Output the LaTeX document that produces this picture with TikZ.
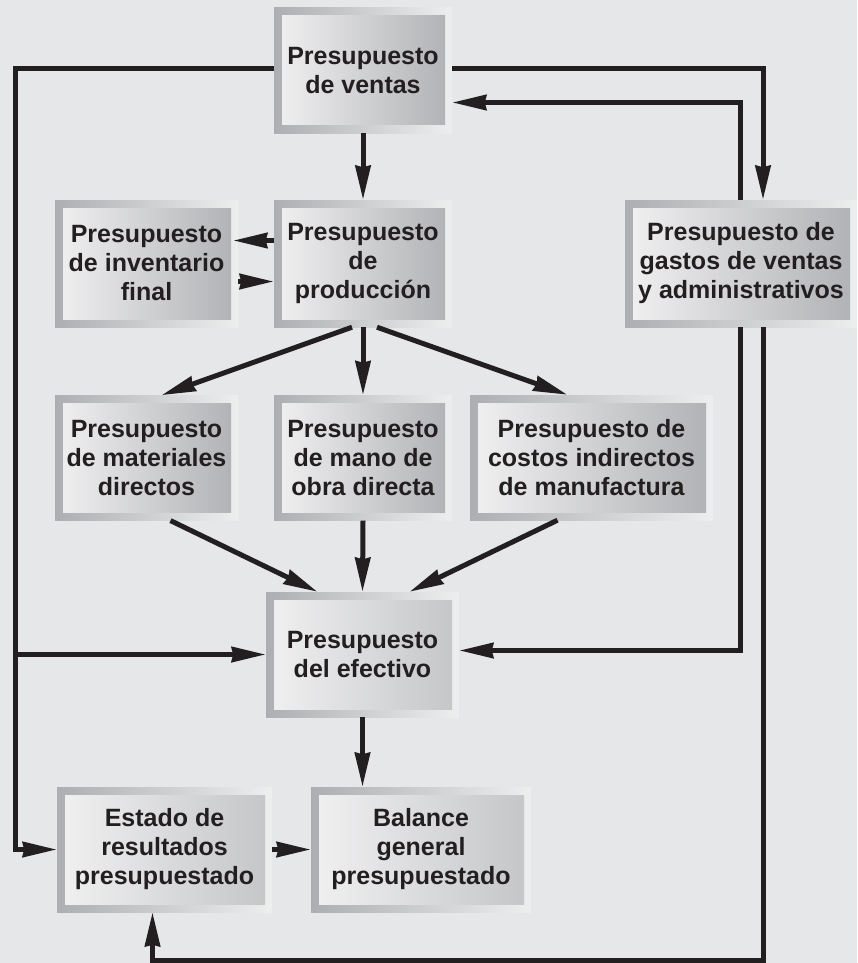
\documentclass[tikz,border=0pt]{standalone}
\usepackage{fontspec}
\setmainfont{Liberation Sans}
\usepackage{tikz}
\usetikzlibrary{positioning,arrows.meta,calc}
\usepackage{xcolor}
\definecolor{bgcol}{HTML}{E6E7E8}
\definecolor{inkcol}{HTML}{231F20}
\definecolor{outL}{HTML}{ADAEB1}
\definecolor{outR}{HTML}{EDEEEE}
\definecolor{inL}{HTML}{F1F1F2}
\definecolor{inR}{HTML}{B0B1B4}
\definecolor{inRlight}{HTML}{C4C5C7}

\begin{document}
\begin{tikzpicture}[
  x=1pt, y=-1pt,
  font=\fontsize{25}{29}\selectfont\bfseries,
  >={Stealth[length=34pt,width=15pt,inset=1.5pt]},
  budget/.style={left color=outL, right color=outR, minimum height=125pt,
    inner sep=0pt, align=center, text=inkcol,
    path picture={\shade[left color=inL, right color=#1]
      ([shift={(8pt,-8pt)}]path picture bounding box.north west) rectangle
      ([shift={(-7pt,8pt)}]path picture bounding box.south east);}},
  budget/.default=inR,
  arr/.style={->, line width=5pt, draw=inkcol},
]

% background and page size
\fill[bgcol] (0,0) rectangle (857,963);
\useasboundingbox (0,0) rectangle (857,963);

% Sales budget on top
\node[budget, minimum width=178pt] (ventas) at (363,70.5) {Presupuesto\\de ventas};

% Second row
\node[budget, minimum width=178pt, minimum height=127pt] (produccion) at (363,263.5) {Presupuesto\\de\\producción};
\node[budget, minimum width=183pt, minimum height=127pt] (inventario) at (146.5,263.5) {Presupuesto\\de inventario\\final};
\node[budget, minimum width=232pt, minimum height=127pt] (gastos) at (741,263.5) {Presupuesto de\\gastos de ventas\\y administrativos};

% Third row
\node[budget, minimum width=178pt, below=68pt of produccion] (manoobra) {Presupuesto\\de mano de\\obra directa};
\node[budget, minimum width=183pt, below=68pt of inventario] (materiales) {Presupuesto\\de materiales\\directos};
\node[budget, minimum width=243pt] (costos) at (591.5,457.5) {Presupuesto de\\costos indirectos\\de manufactura};

% Cash budget
\node[budget=inRlight, minimum width=193pt] (efectivo) at (362.5,654.5) {Presupuesto\\del efectivo};

% Statements at the bottom
\node[budget=inRlight, minimum width=215pt] (estado) at (164.5,849.5) {Estado de\\resultados\\presupuestado};
\node[budget=inRlight, minimum width=220pt] (balance) at (421,849.5) {Balance\\general\\presupuestado};

% Trunk lines
\coordinate (lefttrunk) at (15,0);
\coordinate (downline) at (763,0);
\coordinate (backline) at (740,0);
\coordinate (bottomrun) at (0,960);

% Left loop
\draw[arr] ([yshift=2pt]ventas.west) -| (lefttrunk |- estado.west) -- (estado.west);
\draw[arr] (lefttrunk |- efectivo.west) -- (efectivo.west);

% Right loop
\draw[arr] ([yshift=2pt]ventas.east) -| (downline |- gastos.north);
\draw[arr] (backline |- gastos.north) |- ([yshift=-32pt]ventas.east);
\draw[arr] (backline |- gastos.south) |- ([yshift=4pt]efectivo.east);
\draw[arr] (downline |- gastos.south) -- (downline |- bottomrun) -| ([xshift=-12pt]estado.south);

% Sales -> production
\draw[arr] (ventas.south) -- (produccion.north);

% Production <-> ending inventory
\draw[arr] ([yshift=23pt]produccion.west) -- ([yshift=23pt, xshift=-5pt]inventario.east);
\draw[arr] ([yshift=-18pt]inventario.east) -- ([yshift=-18pt]produccion.west);

% Production -> third row
\draw[arr] ([xshift=-11pt]produccion.south) -- ([xshift=15pt]materiales.north);
\draw[arr] (produccion.south) -- (manoobra.north);
\draw[arr] ([xshift=14pt]produccion.south) -- ([xshift=-24pt]costos.north);

% Third row -> cash
\draw[arr] ([xshift=24pt]materiales.south) -- ([xshift=-45pt]efectivo.north);
\draw[arr] (manoobra.south) -- (efectivo.north);
\draw[arr] ([xshift=-34pt]costos.south) -- ([xshift=47pt]efectivo.north);

% Cash -> balance, income -> balance
\draw[arr] (efectivo.south) -- (efectivo.south |- balance.north);
\draw[arr] (estado.east) -- (balance.west);

\end{tikzpicture}
\end{document}
